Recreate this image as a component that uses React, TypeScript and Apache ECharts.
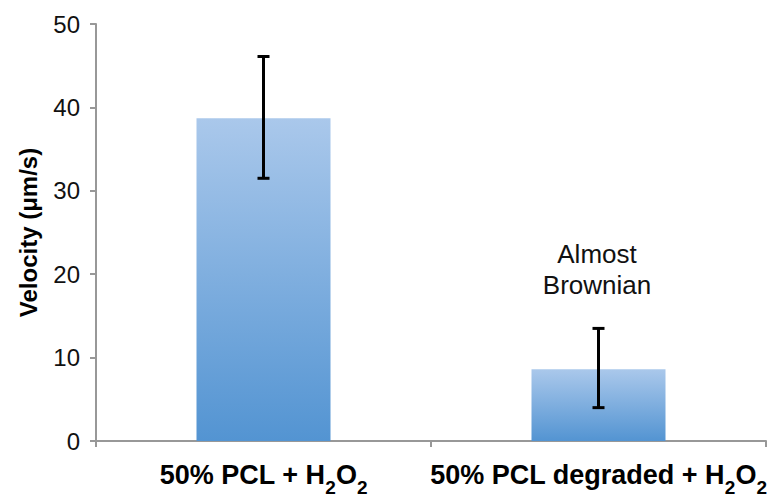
import React, { useEffect, useRef } from "react";
import * as echarts from "echarts";

const categories = ["50% PCL + H2O2", "50% PCL degraded + H2O2"];
const velocities = [38.7, 8.6];
const errLow = [31.5, 4.0];
const errHigh = [46.1, 13.5];
const yMin = 0;
const yMax = 50;
const yStep = 10;
const yTitle = "Velocity (μm/s)";
const annotationLines = ["Almost", "Brownian"];

const AXIS_GRAY = "#989898";

function formatCategory(v: string): string {
  const parts = v.split("H2O2");
  return `{a|${parts[0]}H}{sub|2}{a|O}{sub|2}`;
}

export default function App() {
  const ref = useRef<HTMLDivElement>(null);
  useEffect(() => {
    if (!ref.current) return;
    const chart = echarts.init(ref.current, undefined, { renderer: "svg" });
    const option: any = {
      animation: false,
      grid: { left: 96, right: 7, top: 24, bottom: 54, containLabel: false },
      xAxis: {
        type: "category",
        data: categories,
        axisLine: { show: true, lineStyle: { color: AXIS_GRAY, width: 2 } },
        axisTick: { show: true, length: 6, lineStyle: { color: AXIS_GRAY, width: 2 } },
        axisLabel: {
          margin: 12,
          interval: 0,
          formatter: formatCategory,
          rich: {
            a: {
              fontFamily: "Liberation Sans",
              fontWeight: "bold",
              fontSize: 27,
              lineHeight: 44,
              color: "#000",
            },
            sub: {
              fontFamily: "Liberation Sans",
              fontWeight: "bold",
              fontSize: 19,
              lineHeight: 18,
              padding: [25, 0, 0, 0],
              color: "#000",
            },
          },
        },
      },
      yAxis: {
        type: "value",
        min: yMin,
        max: yMax,
        interval: yStep,
        splitLine: { show: false },
        axisLine: { show: true, lineStyle: { color: AXIS_GRAY, width: 2 } },
        axisTick: { show: true, length: 6, lineStyle: { color: AXIS_GRAY, width: 2 } },
        axisLabel: {
          margin: 16,
          fontFamily: "Liberation Sans",
          fontSize: 24,
          color: "#111",
        },
        name: yTitle,
        nameLocation: "middle",
        nameGap: 56,
        nameRotate: 90,
        nameTextStyle: {
          fontFamily: "Liberation Sans",
          fontWeight: "bold",
          fontSize: 24,
          color: "#000",
        },
      },
      series: [
        {
          type: "bar",
          data: velocities,
          barWidth: "40%",
          itemStyle: {
            color: new echarts.graphic.LinearGradient(0, 0, 0, 1, [
              { offset: 0, color: "#AAC8EB" },
              { offset: 1, color: "#5394D2" },
            ]),
          },
        },
        {
          type: "custom",
          data: categories.map((_, i) => [i, errLow[i], errHigh[i]]),
          encode: { x: 0, y: [1, 2] },
          z: 10,
          renderItem: (params: any, api: any) => {
            const x = api.value(0);
            const lo = api.coord([x, api.value(1)]);
            const hi = api.coord([x, api.value(2)]);
            const hw = 6;
            const style = { stroke: "#000", lineWidth: 3 };
            return {
              type: "group",
              children: [
                { type: "line", shape: { x1: lo[0], y1: lo[1], x2: hi[0], y2: hi[1] }, style },
                { type: "line", shape: { x1: lo[0] - hw, y1: lo[1], x2: lo[0] + hw, y2: lo[1] }, style },
                { type: "line", shape: { x1: hi[0] - hw, y1: hi[1], x2: hi[0] + hw, y2: hi[1] }, style },
              ],
            };
          },
        },
      ],
      graphic: [
        {
          type: "text",
          x: 597,
          y: 269,
          style: {
            text: annotationLines.join("\n"),
            fontFamily: "Liberation Sans",
            fontSize: 26,
            lineHeight: 31,
            fill: "#111",
            align: "center",
            verticalAlign: "middle",
          },
        },
      ],
    };
    chart.setOption(option);
    return () => chart.dispose();
  }, []);
  return (
    <div
      ref={ref}
      style={{ position: "fixed", left: 0, top: 0, width: 773, height: 497, background: "#fff" }}
    />
  );
}
